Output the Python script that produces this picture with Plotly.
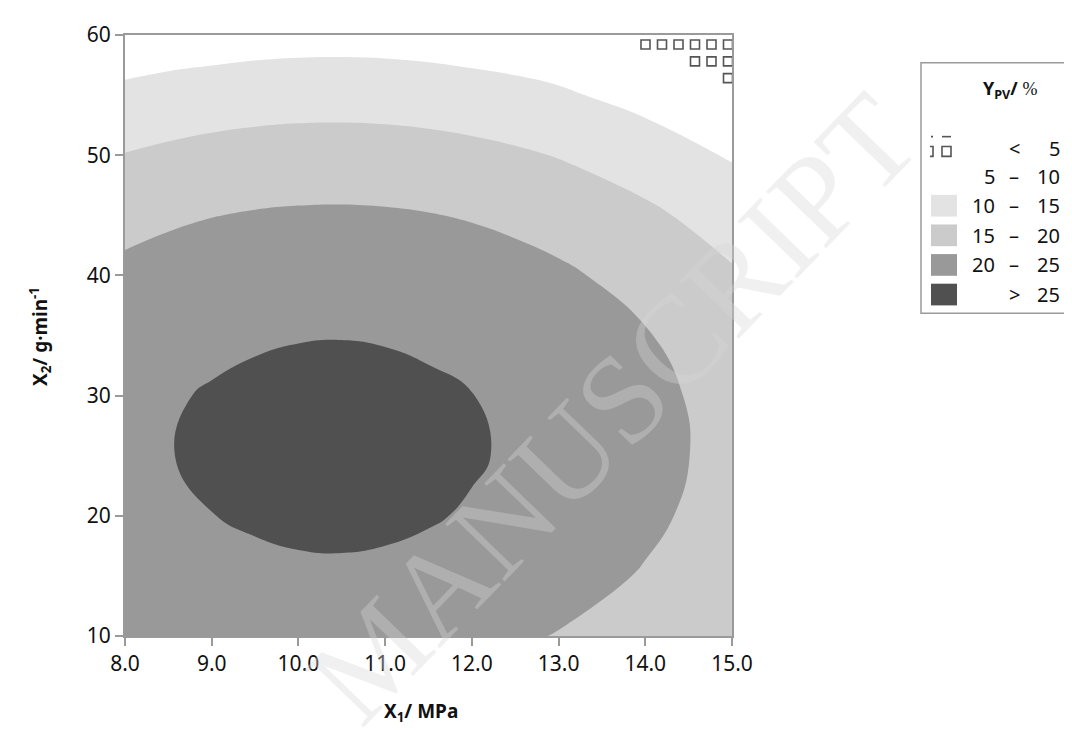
import numpy as np
import plotly.graph_objects as go

# ---------------- data ----------------
x1_mpa = [8, 8.5, 9, 9.5, 10, 10.5, 11, 11.5, 12, 12.5, 13, 14, 15]
x2_gmin = [10, 15, 20, 25, 30, 35, 40, 45, 50, 55, 60]
# Y_PV (%) on the grid: rows follow x2_gmin, columns follow x1_mpa
ypv_row10 = [20.15, 20.93, 21.53, 21.95, 22.18, 22.24, 22.11, 21.80, 21.31, 20.64, 19.79, 17.55, 16.50]
ypv_row15 = [22.26, 23.04, 23.80, 24.28, 24.54, 24.59, 24.46, 24.15, 23.60, 22.75, 21.90, 19.65, 17.30]
ypv_row20 = [23.58, 24.36, 24.96, 25.38, 25.61, 25.67, 25.54, 25.23, 24.74, 24.07, 23.22, 20.98, 18.01]
ypv_row25 = [24.13, 24.91, 25.50, 25.92, 26.16, 26.21, 26.08, 25.78, 25.29, 24.62, 23.77, 21.52, 18.55]
ypv_row30 = [23.90, 24.67, 25.27, 25.69, 25.92, 25.98, 25.85, 25.54, 25.05, 24.39, 23.53, 21.29, 18.32]
ypv_row35 = [22.88, 23.61, 24.22, 24.63, 24.86, 24.92, 24.80, 24.49, 24.04, 23.33, 22.52, 20.28, 17.31]
ypv_row40 = [21.09, 21.87, 22.46, 22.88, 23.12, 23.17, 23.04, 22.74, 22.25, 21.58, 20.73, 18.48, 15.51]
ypv_row45 = [18.52, 19.30, 19.89, 20.31, 20.54, 20.60, 20.47, 20.16, 19.68, 19.01, 18.16, 15.91, 12.94]
ypv_row50 = [15.17, 15.94, 16.54, 16.96, 17.19, 17.25, 17.12, 16.81, 16.32, 15.65, 14.80, 12.56, 9.59]
ypv_row55 = [11.03, 11.81, 12.41, 12.83, 13.06, 13.12, 12.99, 12.68, 12.19, 11.52, 10.67, 8.43, 5.46]
ypv_row60 = [7.00, 7.25, 7.50, 7.91, 8.15, 8.20, 8.08, 7.77, 7.28, 6.90, 6.50, 4.20, 2.59]
ypv = [ypv_row10, ypv_row15, ypv_row20, ypv_row25, ypv_row30, ypv_row35,
       ypv_row40, ypv_row45, ypv_row50, ypv_row55, ypv_row60]

levels = [5, 10, 15, 20, 25]
band_colors = ["#ffffff", "#ffffff", "#e3e3e3", "#cbcbcb", "#999999", "#505050"]
legend_lo = ["", "5", "10", "15", "20", ""]
legend_sym = ["<", "–", "–", "–", "–", ">"]
legend_hi = ["5", "10", "15", "20", "25", "25"]
x_ticks = [8, 9, 10, 11, 12, 13, 14, 15]
y_ticks = [10, 20, 30, 40, 50, 60]

# ---------------- layout geometry (reference pixel coordinates) ----------------
W, H = 1072, 755
OFF = 8  # page body margin
L, R, T, B = 125, 732, 27, 636
FONT = "Noto Sans"
INK = "#111111"


def px(p):
    return (p - L) / (R - L)


def py(p):
    return (B - p) / (B - T)


# discrete colorscale: band midpoints at 2.5,7.5,...,27.5 map to 0,0.2,...,1
cs = []
n = len(band_colors)
for i, c in enumerate(band_colors):
    lo = max(0.0, (i - 0.5) / (n - 1))
    hi = min(1.0, (i + 0.5) / (n - 1))
    cs.append([lo, c])
    cs.append([hi, c])

fig = go.Figure()
fig.add_trace(go.Contour(
    x=x1_mpa, y=x2_gmin, z=ypv,
    contours=dict(start=levels[0], end=levels[-1], size=levels[1] - levels[0],
                  coloring="fill", showlines=False),
    line=dict(width=0, smoothing=1.3),
    colorscale=cs, showscale=False, hoverinfo="skip",
))

# pattern for the "< 5" band: open squares on a lattice, kept where Y_PV < 5
zarr = np.array(ypv)
xa = np.array(x1_mpa, float)
ya = np.array(x2_gmin, float)


def interp(xq, yq):
    i = int(np.clip(np.searchsorted(xa, xq) - 1, 0, len(xa) - 2))
    j = int(np.clip(np.searchsorted(ya, yq) - 1, 0, len(ya) - 2))
    tx = (xq - xa[i]) / (xa[i + 1] - xa[i])
    ty = (yq - ya[j]) / (ya[j + 1] - ya[j])
    return ((1 - tx) * (1 - ty) * zarr[j, i] + tx * (1 - ty) * zarr[j, i + 1]
            + (1 - tx) * ty * zarr[j + 1, i] + tx * ty * zarr[j + 1, i + 1])


step_x = 16.5 / (R - L) * 7
step_y = 17.0 / (B - T) * 50
px_list, py_list = [], []
for jj in range(6):
    yy = 60 - (9.7 / (B - T) * 50) - jj * step_y
    for ii in range(14):
        xx = 15 - (4.0 / (R - L) * 7) - ii * step_x
        if xx > 8 and yy > 10 and interp(xx, yy) < levels[0]:
            px_list.append(xx)
            py_list.append(yy)

fig.add_trace(go.Scatter(
    x=px_list, y=py_list, mode="markers",
    marker=dict(symbol="square-open", size=9, color="#555555",
                line=dict(width=1.6, color="#555555")),
    hoverinfo="skip", showlegend=False, cliponaxis=True,
))

axis_common = dict(showline=True, linecolor="#9a9a9a", linewidth=2, mirror=True,
                   ticks="outside", ticklen=8, tickwidth=2, tickcolor="#9a9a9a",
                   showgrid=False, zeroline=False,
                   tickfont=dict(family=FONT, size=21, color=INK))

fig.update_layout(
    width=W, height=H,
    margin=dict(l=L - OFF, r=W - R + OFF, t=T - OFF, b=H - B + OFF),
    paper_bgcolor="white", plot_bgcolor="white",
    showlegend=False,
    xaxis=dict(range=[8, 15], tickvals=x_ticks,
               ticktext=[f"{v:.1f}" for v in x_ticks], **axis_common),
    yaxis=dict(range=[10, 60], tickvals=y_ticks,
               ticktext=[str(v) for v in y_ticks], **axis_common),
)


def note(xp, yp, text, size=20, xanchor="center", **kw):
    return dict(x=px(xp), y=py(yp), xref="paper", yref="paper", text=text,
                showarrow=False, xanchor=xanchor, yanchor="middle",
                font=dict(family=kw.pop("family", FONT), size=size,
                          color=kw.pop("color", INK)), **kw)


ann = []
# axis titles
ann.append(note(421, 713, "<b>X<sub>1</sub>/ MPa</b>", size=19))
ann.append(note(40, 333, "<b>X<sub>2</sub>/ g·min<sup>-1</sup></b>", size=19,
                textangle=-90))

# legend box
shapes = [dict(type="rect", xref="paper", yref="paper",
               x0=px(921), x1=px(1095), y0=py(55), y1=py(309),
               line=dict(color="#9a9a9a", width=1.5), fillcolor="rgba(0,0,0,0)")]
ann.append(note(1010, 82,
                "<b>Y<sub>PV</sub>/</b> <span style='font-family:Liberation Serif'>%</span>",
                size=18))
row_y = [142, 170, 200, 230, 260, 290]
for k in range(6):
    yk = row_y[k]
    if legend_lo[k]:
        ann.append(note(997, yk, legend_lo[k], xanchor="right"))
    ann.append(note(1014, yk, legend_sym[k]))
    ann.append(note(1062, yk, legend_hi[k], xanchor="right"))
    if k >= 2:
        shapes.append(dict(type="rect", xref="paper", yref="paper",
                           x0=px(931), x1=px(957), y0=py(yk - 11), y1=py(yk + 11),
                           line=dict(width=0), fillcolor=band_colors[k]))

# "< 5" legend swatch pattern pieces
pat = dict(color="#555555", width=1.6)
shapes += [
    dict(type="rect", xref="paper", yref="paper", x0=px(942), x1=px(951),
         y0=py(140), y1=py(150), line=pat),
    dict(type="line", xref="paper", yref="paper", x0=px(942), x1=px(951),
         y0=py(130), y1=py(130), line=pat),
    dict(type="line", xref="paper", yref="paper", x0=px(931), x1=px(933),
         y0=py(130), y1=py(130), line=pat),
    dict(type="path", xref="paper", yref="paper",
         path=f"M {px(930)} {py(140)} L {px(933)} {py(140)} L {px(933)} {py(150)} L {px(930)} {py(150)}",
         line=pat),
]

# watermark
ann.append(note(612, 405, "MANUSCRIPT", size=126, textangle=-46,
                family="Liberation Serif", color="rgba(213,213,213,0.36)"))

fig.update_layout(annotations=ann, shapes=shapes)
fig.write_html("out.html")
